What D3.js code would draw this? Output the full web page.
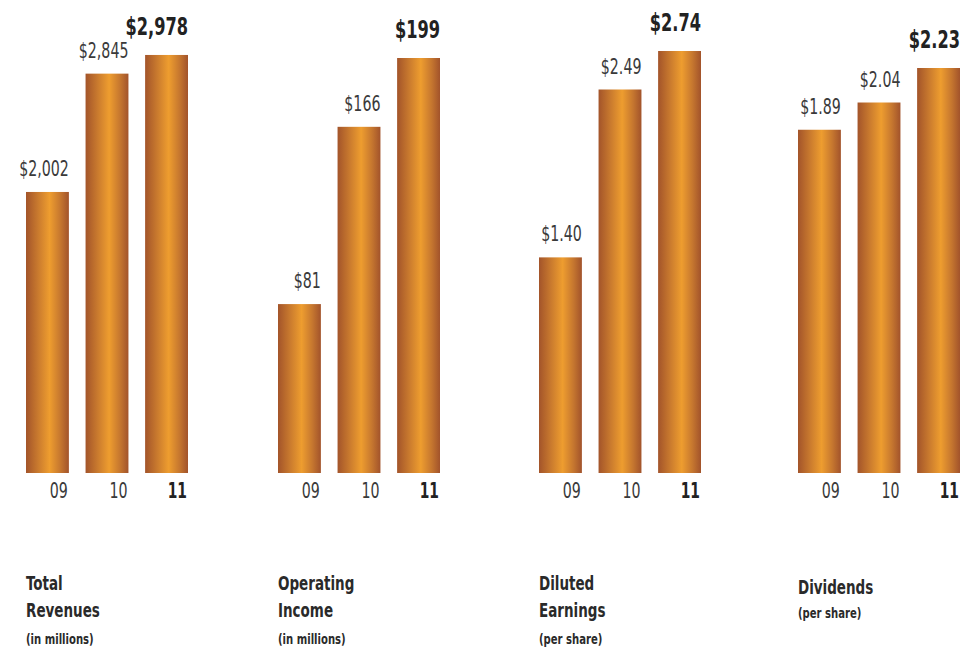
<!DOCTYPE html>
<html>
<head>
<meta charset="utf-8">
<script src="https://cdn.jsdelivr.net/npm/d3@7"></script>
<style>
  body { margin: 0; background: #fff; }
  text { font-family: "DejaVu Sans Condensed", "DejaVu Sans", sans-serif; }
</style>
</head>
<body>
<div id="chart"></div>
<script>
// data
const years = ["09", "10", "11"];
const panels = ["revenues", "income", "earnings", "dividends"];
const revenues = [2002, 2845, 2978];
const income = [81, 166, 199];
const earnings = [1.40, 2.49, 2.74];
const dividends = [1.89, 2.04, 2.23];
const valueLabels = [
  ["$2,002", "$2,845", "$2,978"],
  ["$81", "$166", "$199"],
  ["$1.40", "$2.49", "$2.74"],
  ["$1.89", "$2.04", "$2.23"]
];
const titles = [["Total", "Revenues"], ["Operating", "Income"], ["Diluted", "Earnings"], ["Dividends"]];
const subtitles = ["(in millions)", "(in millions)", "(per share)", "(per share)"];
// each panel has its own scale top
const scaleMax = [2992, 201.4, 2.727, 2.3126];

const series = [revenues, income, earnings, dividends];

const W = 966, H = 649;
const baseY = 473, topY = 53;

const svg = d3.select("#chart").append("svg")
    .attr("width", W)
    .attr("height", H);

const grad = svg.append("defs").append("linearGradient")
    .attr("id", "bronze")
    .attr("x1", "0%").attr("x2", "100%")
    .attr("y1", "0%").attr("y2", "0%");
[["0%", "#a3542a"], ["28%", "#c97a2e"], ["55%", "#ee9d2f"], ["80%", "#c6772f"], ["100%", "#a2532b"]]
  .forEach(s => grad.append("stop").attr("offset", s[0]).attr("stop-color", s[1]));

// panels are not quite evenly spaced in the original
let xPanel = d3.scaleOrdinal()
    .domain(panels)
    .range([26, 278, 539, 798]);

let xBar = d3.scaleBand()
    .domain(years)
    .range([0, 162])
    .paddingInner(0.28);

// condensed text: squeeze horizontally around the anchor point
function label(sel, x, y, sx) {
    return sel.attr("transform", "translate(" + x + "," + y + ") scale(" + sx + ",1)");
}

panels.forEach((p, i) => {
    let g = svg.append("g")
        .attr("transform", "translate(" + xPanel(p) + ",0)");

    let y = d3.scaleLinear()
        .domain([0, scaleMax[i]])
        .range([baseY, topY]);

    let rows = years.map((yr, j) => ({year: yr, value: series[i][j], label: valueLabels[i][j], last: j === years.length - 1}));

    g.selectAll("rect")
        .data(rows)
        .enter()
        .append("rect")
        .attr("x", d => xBar(d.year))
        .attr("y", d => y(d.value))
        .attr("width", xBar.bandwidth())
        .attr("height", d => y(0) - y(d.value))
        .attr("fill", "url(#bronze)");

    // value labels, right aligned on the bar
    g.selectAll(".val")
        .data(rows)
        .enter()
        .append("text")
        .attr("class", "val")
        .each(function(d) {
            label(d3.select(this), xBar(d.year) + xBar.bandwidth(), y(d.value) - (d.last ? 20 : 16), d.last ? 0.72 : 0.77);
        })
        .attr("text-anchor", "end")
        .attr("font-size", d => d.last ? 25 : 20.5)
        .attr("font-weight", d => d.last ? "bold" : "normal")
        .attr("fill", d => d.last ? "#222" : "#3a3a3a")
        .text(d => d.label);

    // year labels
    g.selectAll(".yr")
        .data(rows)
        .enter()
        .append("text")
        .attr("class", "yr")
        .each(function(d) {
            label(d3.select(this), xBar(d.year) + xBar.bandwidth() - 1, 498, d.last ? 0.75 : 0.77);
        })
        .attr("text-anchor", "end")
        .attr("font-size", 20.5)
        .attr("font-weight", d => d.last ? "bold" : "normal")
        .attr("fill", d => d.last ? "#222" : "#3a3a3a")
        .text(d => d.year);

    // titles
    let lines = titles[i];
    lines.forEach((t, k) => {
        label(g.append("text"), 0, (lines.length === 1 ? 594 : 590) + k * 27, 0.75)
            .attr("font-size", 20)
            .attr("font-weight", "bold")
            .attr("fill", "#2a2a2a")
            .text(t);
    });
    label(g.append("text"), 0, lines.length === 1 ? 618 : 644, 0.8)
        .attr("font-size", 14)
        .attr("font-weight", "bold")
        .attr("fill", "#2a2a2a")
        .text(subtitles[i]);
});
</script>
</body>
</html>
